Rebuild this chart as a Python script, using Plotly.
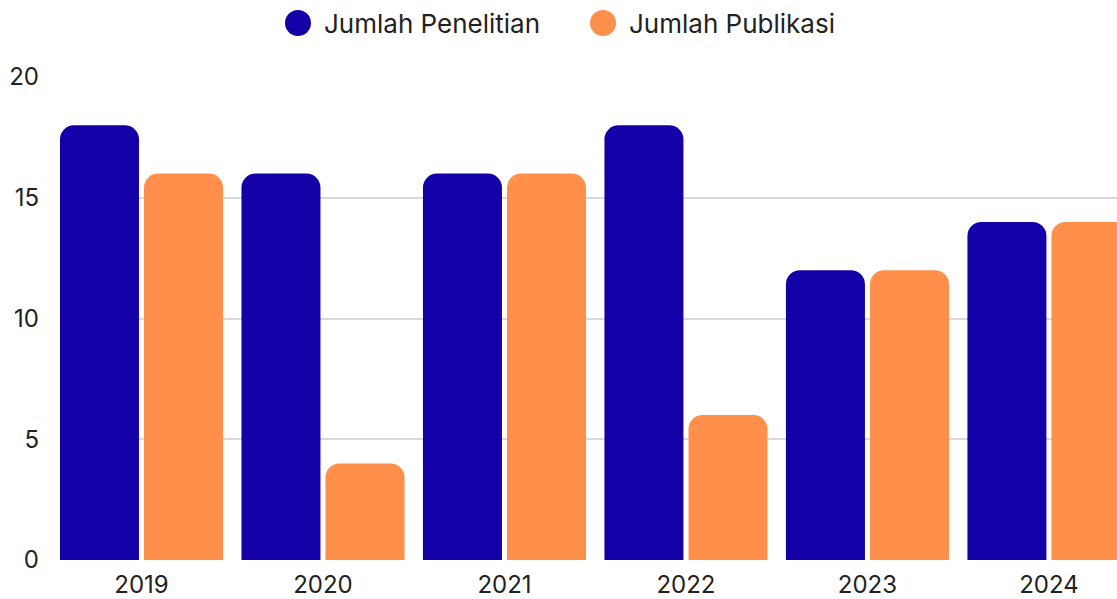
import plotly.graph_objects as go

years = ["2019", "2020", "2021", "2022", "2023", "2024"]
penelitian = [18, 16, 16, 18, 12, 14]
publikasi = [16, 4, 16, 6, 12, 14]
series_names = ["Jumlah Penelitian", "Jumlah Publikasi"]
colors = ["#1400A7", "#FF8F4B"]
y_ticks = [0, 5, 10, 15, 20]

FONT = "Inter, Lato, sans-serif"
TEXT = "#222222"

# plot area geometry (pixels)
W, H = 1117, 599
ML, MR, MT, MB = 60, 0, 77, 39
PW, PH = W - ML - MR, H - MT - MB

def px_x(px):
    return (px - ML) / PW

def px_y(py):
    return (H - MB - py) / PH

fig = go.Figure()
for name, vals, col in zip(series_names, [penelitian, publikasi], colors):
    fig.add_trace(go.Bar(x=years, y=vals, name=name, marker=dict(color=col, line=dict(width=0)),
                         showlegend=False))

# custom legend: circle markers + text
legend_pos = [298, 603]  # circle centers in pixels
legend_y = 23
shapes = []
annotations = []
for name, col, cx in zip(series_names, colors, legend_pos):
    shapes.append(dict(type="circle", xref="paper", yref="paper", xsizemode="pixel", ysizemode="pixel",
                       xanchor=px_x(cx), yanchor=px_y(legend_y), x0=-13, x1=13, y0=-13, y1=13,
                       fillcolor=col, line=dict(width=0)))
    annotations.append(dict(text=name, xref="paper", yref="paper", x=px_x(cx + 24), y=px_y(legend_y),
                            xanchor="left", yanchor="middle", showarrow=False,
                            font=dict(family=FONT, size=26, color=TEXT)))

fig.update_layout(
    width=W, height=H,
    margin=dict(l=ML, r=MR, t=MT, b=MB),
    paper_bgcolor="white", plot_bgcolor="white",
    barmode="group", bargap=0.074, bargroupgap=0.06, barcornerradius=14,
    font=dict(family=FONT, size=24, color=TEXT),
    showlegend=False,
    shapes=shapes, annotations=annotations,
)
fig.update_xaxes(type="category", range=[-0.449, 5.375], showgrid=False, showline=False, zeroline=False,
                 ticks="", tickfont=dict(size=24), ticklabelstandoff=8)
fig.update_yaxes(range=[0, 20], tickvals=y_ticks, showgrid=True, gridcolor="#D9D9D9", gridwidth=2,
                 zeroline=False, showline=False, ticks="", tickfont=dict(size=24), ticklabelstandoff=20)

fig.write_html("out.html")
